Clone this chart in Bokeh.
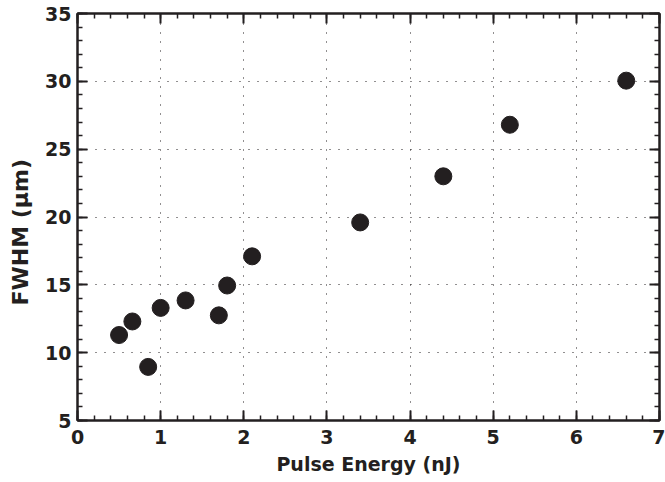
from bokeh.plotting import figure
from bokeh.models import Range1d, SingleIntervalTicker, LinearAxis, Grid
from bokeh.embed import file_html
from bokeh.resources import INLINE

pulse_energy = [0.5, 0.66, 0.85, 1.0, 1.3, 1.7, 1.8, 2.1, 3.4, 4.4, 5.2, 6.6]
fwhm = [11.3, 12.3, 8.95, 13.3, 13.85, 12.75, 14.95, 17.1, 19.6, 23.0, 26.8, 30.05]

x_label = "Pulse Energy (nJ)"
y_label = "FWHM (\u03bcm)"

FONT = "DejaVu Sans"
INK = "#231f20"

p = figure(width=665, height=482, output_backend="svg", toolbar_location=None,
           x_range=Range1d(0, 7), y_range=Range1d(5, 35),
           min_border_left=77, min_border_right=6, min_border_top=13, min_border_bottom=62,
           x_axis_type=None, y_axis_type=None)
p.background_fill_color = "white"
p.border_fill_color = "white"
p.outline_line_color = INK
p.outline_line_width = 2

def make_axis(loc, ticker, show_labels, label=None, label_size="19px"):
    ax = LinearAxis(ticker=ticker)
    ax.axis_line_color = INK
    ax.axis_line_width = 2
    ax.major_tick_in = 10
    ax.major_tick_out = 0
    ax.minor_tick_in = 5
    ax.minor_tick_out = 0
    ax.major_tick_line_color = INK
    ax.major_tick_line_width = 2
    ax.minor_tick_line_color = INK
    ax.minor_tick_line_width = 1.5
    ax.major_label_text_font = FONT
    ax.major_label_text_font_style = "bold"
    ax.major_label_text_font_size = "19px"
    ax.major_label_text_color = INK
    ax.major_label_standoff = 6
    if not show_labels:
        ax.major_label_text_font_size = "0px"
        ax.major_label_text_alpha = 0
        ax.major_label_standoff = 0
    if label:
        ax.axis_label = label
        ax.axis_label_text_font = FONT
        ax.axis_label_text_font_style = "bold"
        ax.axis_label_text_font_size = label_size
        ax.axis_label_text_color = INK
    p.add_layout(ax, loc)
    return ax

xt = SingleIntervalTicker(interval=1, num_minor_ticks=5)
yt = SingleIntervalTicker(interval=5, num_minor_ticks=5)

xb = make_axis("below", xt, True, x_label, "19px")
xb.major_label_standoff = 9
xb.axis_label_standoff = 6
yl = make_axis("left", yt, True, y_label + "\u00a0" * 4, "22px")
yl.major_label_standoff = 6
yl.axis_label_standoff = 9
make_axis("above", xt, False)
make_axis("right", yt, False)

p.add_layout(Grid(dimension=0, ticker=xt, grid_line_color=INK, grid_line_width=1,
                  grid_line_dash="1 8"))
p.add_layout(Grid(dimension=1, ticker=yt, grid_line_color=INK, grid_line_width=1,
                  grid_line_dash="1 8"))

p.scatter(pulse_energy, fwhm, size=17, fill_color=INK, line_color=INK, marker="circle")

open("out.html", "w").write(file_html(p, INLINE))
